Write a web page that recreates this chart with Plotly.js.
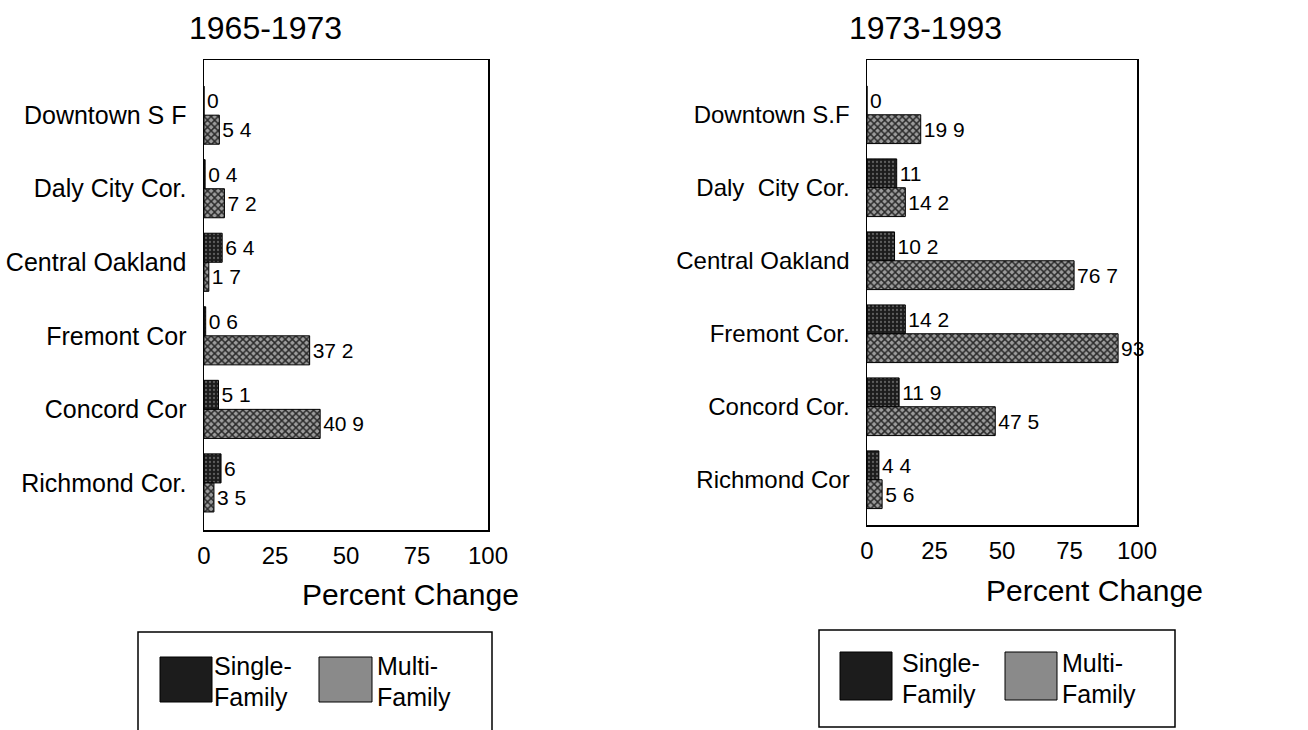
<!DOCTYPE html>
<html>
<head>
<meta charset="utf-8">
<script src="https://cdn.plot.ly/plotly-3.0.1.min.js"></script>
<style>
  html, body { margin: 0; padding: 0; background: #fff; }
  #chart { width: 1308px; height: 730px; }
</style>
</head>
<body>
<div id="chart"></div>
<script>
// ---- Data ----
const categoriesLeft = ["Downtown S F", "Daly City Cor.", "Central Oakland", "Fremont Cor", "Concord Cor", "Richmond Cor."];
const categoriesRight = ["Downtown S.F", "Daly  City Cor.", "Central Oakland", "Fremont Cor.", "Concord Cor.", "Richmond Cor"];
const single6573 = [0, 0.4, 6.4, 0.6, 5.1, 6];
const multi6573 = [5.4, 7.2, 1.7, 37.2, 40.9, 3.5];
const single7393 = [0, 11, 10.2, 14.2, 11.9, 4.4];
const multi7393 = [19.9, 14.2, 76.7, 93, 47.5, 5.6];
const xTicks = [0, 25, 50, 75, 100];
const titles = ["1965-1973", "1973-1993"];
const seriesNameLines = [["Single-", "Family"], ["Multi-", "Family"]];

// labels as printed in the scan (decimal point appears as a space)
const lab = arr => arr.map(v => String(v).replace('.', ' '));

const SANS = '"Liberation Sans", Arial, Helvetica, sans-serif';

const singleMarker = {
  color: '#1c1c1c',
  line: { color: '#000', width: 1 },
  pattern: { shape: '.', fgcolor: '#5e5e5e', bgcolor: '#1c1c1c', size: 4, solidity: 0.25 }
};
const multiMarker = {
  color: '#8a8a8a',
  line: { color: '#000', width: 1 },
  pattern: { shape: 'x', fgcolor: '#2a2a2a', bgcolor: '#9c9c9c', size: 5, solidity: 0.5 }
};

function barTrace(x, y, marker, xa, ya) {
  return {
    type: 'bar', orientation: 'h', x: x, y: y,
    xaxis: xa, yaxis: ya, marker: marker,
    text: lab(x), textposition: 'outside', cliponaxis: false,
    textfont: { family: SANS, size: 21, color: '#000' },
    showlegend: false, hoverinfo: 'x+y'
  };
}

const data = [
  barTrace(single6573, categoriesLeft, singleMarker, 'x', 'y'),
  barTrace(multi6573, categoriesLeft, multiMarker, 'x', 'y'),
  barTrace(single7393, categoriesRight, singleMarker, 'x2', 'y2'),
  barTrace(multi7393, categoriesRight, multiMarker, 'x2', 'y2')
];

const W = 1308, H = 730;
const px = v => v / W, py = v => 1 - v / H;

function xaxisDef(x0, x1) {
  return {
    domain: [px(x0), px(x1)], range: [0, 100], tickvals: xTicks,
    showgrid: false, zeroline: false, showline: true, mirror: true,
    linecolor: '#000', linewidth: 1.5, ticks: '',
    tickfont: { family: SANS, size: 24, color: '#000' },
    ticklabelstandoff: 4, fixedrange: true
  };
}
function yaxisDef(y0, y1, range, anchor, fs) {
  return {
    domain: [py(y1), py(y0)], range: range, type: 'category',
    showgrid: false, zeroline: false, showline: true, mirror: true,
    linecolor: '#000', linewidth: 1.5, ticks: '',
    tickfont: { family: SANS, size: fs, color: '#000' },
    ticklabelstandoff: 11, anchor: anchor, fixedrange: true
  };
}

const shapes = [];
const annotations = [];

// titles
annotations.push({ xref: 'paper', yref: 'paper', x: px(265), y: py(28), text: titles[0], showarrow: false,
  font: { family: SANS, size: 32, color: '#000' }, xanchor: 'center', yanchor: 'middle' });
annotations.push({ xref: 'paper', yref: 'paper', x: px(925), y: py(28), text: titles[1], showarrow: false,
  font: { family: SANS, size: 32, color: '#000' }, xanchor: 'center', yanchor: 'middle' });

// axis titles
annotations.push({ xref: 'paper', yref: 'paper', x: px(410), y: py(594), text: 'Percent Change', showarrow: false,
  font: { family: SANS, size: 30, color: '#000' }, xanchor: 'center', yanchor: 'middle' });
annotations.push({ xref: 'paper', yref: 'paper', x: px(1094), y: py(590), text: 'Percent Change', showarrow: false,
  font: { family: SANS, size: 30, color: '#000' }, xanchor: 'center', yanchor: 'middle' });

// legends (boxes, swatches, labels)
function legend(bx0, by0, bx1, by1, s1x, s2x, sy0, sy1, t1x, t2x, ty1, ty2) {
  shapes.push({ type: 'rect', xref: 'paper', yref: 'paper', x0: px(bx0), x1: px(bx1), y0: py(by1), y1: py(by0),
    line: { color: '#000', width: 1.5 }, fillcolor: 'rgba(0,0,0,0)' });
  shapes.push({ type: 'rect', xref: 'paper', yref: 'paper', x0: px(s1x[0]), x1: px(s1x[1]), y0: py(sy1), y1: py(sy0),
    line: { color: '#000', width: 1 }, fillcolor: '#1c1c1c' });
  shapes.push({ type: 'rect', xref: 'paper', yref: 'paper', x0: px(s2x[0]), x1: px(s2x[1]), y0: py(sy1), y1: py(sy0),
    line: { color: '#000', width: 1 }, fillcolor: '#8a8a8a' });
  [t1x, t2x].forEach((tx, i) => {
    seriesNameLines[i].forEach((line, j) => {
      annotations.push({ xref: 'paper', yref: 'paper', x: px(tx), y: py(j === 0 ? ty1 : ty2), text: line,
        showarrow: false, font: { family: SANS, size: 25, color: '#000' }, xanchor: 'left', yanchor: 'middle',
        borderpad: 0 });
    });
  });
}
legend(138, 632, 492, 740, [160, 212], [319, 372], 657, 702, 213, 376, 666, 697);
legend(819, 630, 1175, 727, [840, 892], [1005, 1057], 652, 700, 901, 1061, 663, 694);

const layout = {
  width: W, height: H,
  margin: { l: 0, r: 0, t: 0, b: 0 },
  paper_bgcolor: '#fff', plot_bgcolor: '#fff',
  barmode: 'group', bargap: 0.21, bargroupgap: 0,
  showlegend: false,
  xaxis: Object.assign(xaxisDef(204, 488), { anchor: 'y' }),
  yaxis: yaxisDef(60, 530, [5.64, -0.75], 'x', 25),
  xaxis2: Object.assign(xaxisDef(867, 1137), { anchor: 'y2' }),
  yaxis2: yaxisDef(60, 525, [5.62, -0.75], 'x2', 24),
  shapes: shapes,
  annotations: annotations,
  font: { family: SANS, color: '#000' }
};

Plotly.newPlot('chart', data, layout, { displayModeBar: false, staticPlot: true });
</script>
</body>
</html>
